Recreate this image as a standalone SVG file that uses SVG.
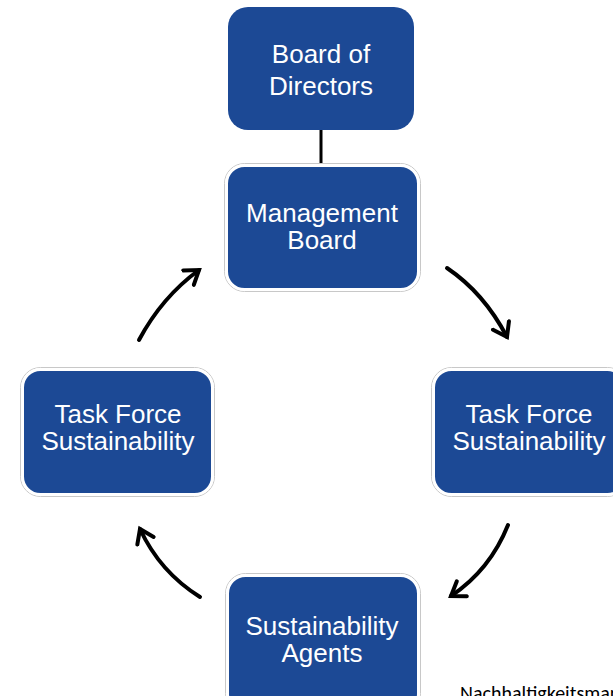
<svg xmlns="http://www.w3.org/2000/svg" width="613" height="696" viewBox="0 0 613 696">
<style>
.box{fill:#1C4995;stroke:#ffffff;stroke-width:3}
.outline{fill:none;stroke:#c8c8c8;stroke-width:1}
.lbl{font-family:"Liberation Sans",Arial,sans-serif;font-size:26px;fill:#ffffff;text-anchor:middle}
.arr{fill:none;stroke:#000;stroke-width:4;stroke-linecap:round}
</style>
<defs>
<marker id="ah" markerUnits="userSpaceOnUse" markerWidth="30" markerHeight="30" viewBox="-15 -15 30 30" refX="0" refY="0" orient="auto">
<path d="M-13,-9 L0,0 L-13,9" fill="none" stroke="#000" stroke-width="4" stroke-linecap="round" stroke-linejoin="miter"/>
</marker>
</defs>
<rect width="613" height="696" fill="#ffffff"/>
<g id="connectors">
<line x1="321" y1="130" x2="321" y2="167" stroke="#000" stroke-width="3"/>
<path class="arr" d="M139,340 Q162,297 199,270" marker-end="url(#ah)"/>
<path class="arr" d="M447,268 Q484,293 507,337" marker-end="url(#ah)"/>
<path class="arr" d="M508,525 Q490,570 451,596" marker-end="url(#ah)"/>
<path class="arr" d="M200,597 Q160,572 140,529" marker-end="url(#ah)"/>
</g>
<g id="board-of-directors">
<rect x="228" y="7" width="186" height="123" rx="20" fill="#1C4995"/>
<text class="lbl" x="321" y="63">Board  of</text>
<text class="lbl" x="321" y="95">Directors</text>
</g>
<g id="management-board">
<rect class="outline" x="224.5" y="163.5" width="196" height="128" rx="20"/>
<rect class="box" x="226.5" y="165.5" width="192" height="124" rx="18"/>
<text class="lbl" x="322" y="222">Management</text>
<text class="lbl" x="322" y="249">Board</text>
</g>
<g id="task-force-right">
<rect class="outline" x="431.5" y="367.5" width="196" height="129" rx="20"/>
<rect class="box" x="433.5" y="369.5" width="192" height="125" rx="18"/>
<text class="lbl" x="529" y="423">Task Force</text>
<text class="lbl" x="529" y="450">Sustainability</text>
</g>
<g id="task-force-left">
<rect class="outline" x="20.5" y="367.5" width="194" height="129" rx="20"/>
<rect class="box" x="22.5" y="369.5" width="190" height="125" rx="18"/>
<text class="lbl" x="118" y="423">Task Force</text>
<text class="lbl" x="118" y="450">Sustainability</text>
</g>
<g id="sustainability-agents">
<rect class="outline" x="225.5" y="573.5" width="195" height="140" rx="20"/>
<rect class="box" x="227.5" y="575.5" width="191" height="136" rx="18"/>
<text class="lbl" x="322" y="635">Sustainability</text>
<text class="lbl" x="322" y="662">Agents</text>
</g>
<text x="460" y="700" font-family="Carlito,'Open Sans','Liberation Sans',sans-serif" font-size="20" fill="#000">Nachhaltigkeitsmanagement</text>
</svg>
